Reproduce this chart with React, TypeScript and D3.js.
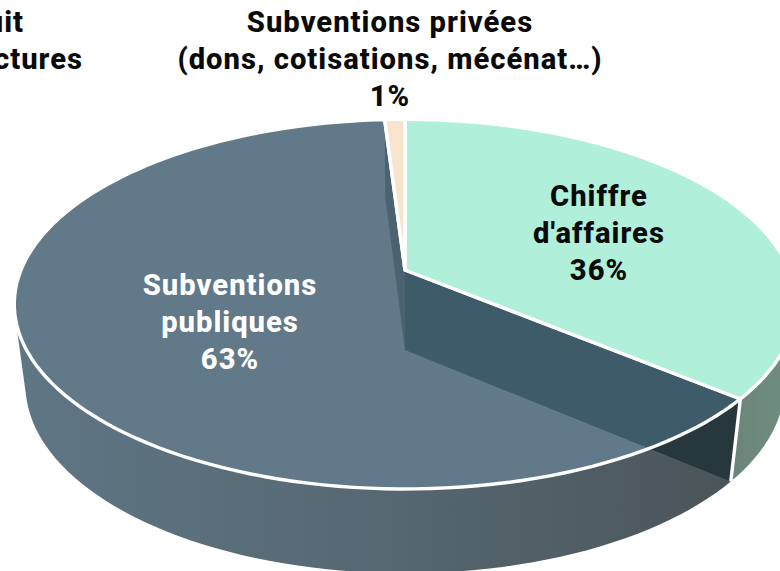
import React from "react";
import * as d3 from "d3";

// Shares of income by source, clockwise from twelve o'clock
const sources = ["Chiffre d'affaires", "Subventions publiques", "Subventions privées"];
const shares = [36, 63, 1];
const topColors = ["#b0f0da", "#627989", "#f8e3cf"];

const labelCaisse = ["Chiffre", "d'affaires", "36%"];
const labelPubliques = ["Subventions", "publiques", "63%"];
const labelPrivees = ["Subventions privées", "(dons, cotisations, mécénat…)", "1%"];
const labelProduit = ["Produit", "des structures"];

const W = 780;
const H = 571;

// Perspective disc: centre, half-axes and foreshortening of the top and bottom faces
const top = { x: 405, y: 270, a: 384, b: 178.5 };
const bottom = { x: 405, y: 350, a: 373, b: 182 };
const persp = 0.1848;

type Face = typeof top;
const project = (f: Face, angle: number): [number, number] => {
  const u = Math.sin(angle);
  const v = -Math.cos(angle);
  const w = 1 - persp * v;
  return [f.x + (f.a * u) / w, f.y + (f.b * v) / w];
};

const rim = (f: Face, a0: number, a1: number) =>
  d3.range(0, 121).map((i) => project(f, a0 + ((a1 - a0) * i) / 120));

const line = d3.line().curve(d3.curveLinear);
const closed = (pts: [number, number][]) => line(pts) + "Z";

const pie = d3.pie<number>().sort(null).startAngle(0).endAngle(2 * Math.PI);
const arcs = pie(shares);

const wedge = (a0: number, a1: number) =>
  closed([[top.x, top.y], ...rim(top, a0, a1)]);
// Outer wall outline: the hull of both rims keeps the straight silhouette at the sides
const wall = (a0: number, a1: number) =>
  closed(d3.polygonHull([...rim(top, a0, a1), ...rim(bottom, a0, a1)]) as [number, number][]);
const radial = (a: number) =>
  closed([[top.x, top.y], project(top, a), project(bottom, a), [bottom.x, bottom.y]]);

const FONT = "Roboto, sans-serif";
const SIZE = 29.2;
const TRACK = 1;
const WEIGHT = 800;

function Label({ lines, x, y, fill = "#0a0a0a" }: { lines: string[]; x: number; y: number; fill?: string }) {
  return (
    <text textAnchor="middle" fontFamily={FONT} fontWeight={WEIGHT} fontSize={SIZE} letterSpacing={TRACK} fill={fill}>
      {lines.map((l, i) => (
        <tspan key={l} x={x} y={y + i * 37.2}>{l}</tspan>
      ))}
    </text>
  );
}

export default function App() {
  const [ca, pub, priv] = arcs;
  const pubFace = wedge(pub.startAngle, pub.endAngle);
  return (
    <svg width={W} height={H} viewBox={`0 0 ${W} ${H}`} role="img" aria-label={sources.join(", ")}
      style={{ position: "absolute", left: 0, top: 0, display: "block", overflow: "hidden" }}>
      <defs>
        <linearGradient id="wallPub" gradientUnits="userSpaceOnUse" x1={15} x2={735} y1={0} y2={0}>
          <stop offset="0" stopColor="#5f7685" />
          <stop offset="0.5" stopColor="#566872" />
          <stop offset="1" stopColor="#4b5559" />
        </linearGradient>
        <linearGradient id="wallCa" gradientUnits="userSpaceOnUse" x1={730} x2={800} y1={0} y2={0}>
          <stop offset="0" stopColor="#6a8479" />
          <stop offset="1" stopColor="#70907f" />
        </linearGradient>
        <clipPath id="pubClip"><path d={pubFace} /></clipPath>
      </defs>

      {/* outer walls and the exposed cut face between the two large slices */}
      <path d={wall(pub.startAngle, pub.endAngle)} fill="url(#wallPub)" />
      <path d={wall(ca.startAngle, ca.endAngle)} fill="url(#wallCa)" />
      <path d={radial(ca.endAngle)} fill="#27383d" />
      <path d={closed([project(top, ca.endAngle), project(bottom, ca.endAngle)])} fill="none" stroke="#fff" strokeWidth={3.4} />

      {/* top faces; the cut faces show faintly through the public-grant slice */}
      <path d={pubFace} fill={topColors[1]} />
      <g clipPath="url(#pubClip)">
        <path d={radial(ca.endAngle)} fill="#3e5b69" />
        <path d={radial(pub.endAngle)} fill="#4b6270" />
      </g>
      <path d={pubFace} fill="none" stroke="#fff" strokeWidth={3.4} strokeLinejoin="round" />
      <path d={wedge(ca.startAngle, ca.endAngle)} fill={topColors[0]} stroke="#fff" strokeWidth={3.4} strokeLinejoin="round" />
      <path d={wedge(priv.startAngle, priv.endAngle)} fill={topColors[2]} stroke="#fff" strokeWidth={3.4} strokeLinejoin="round" />

      <Label lines={labelCaisse} x={599} y={206} />
      <Label lines={labelPubliques} x={230} y={295} fill="#fff" />
      <Label lines={labelPrivees} x={390} y={32} />
      <text fontFamily={FONT} fontWeight={WEIGHT} fontSize={SIZE} letterSpacing={TRACK} fill="#0a0a0a" textAnchor="end">
        <tspan x={24} y={32}>{labelProduit[0]}</tspan>
        <tspan x={83} y={69}>{labelProduit[1]}</tspan>
      </text>
    </svg>
  );
}
